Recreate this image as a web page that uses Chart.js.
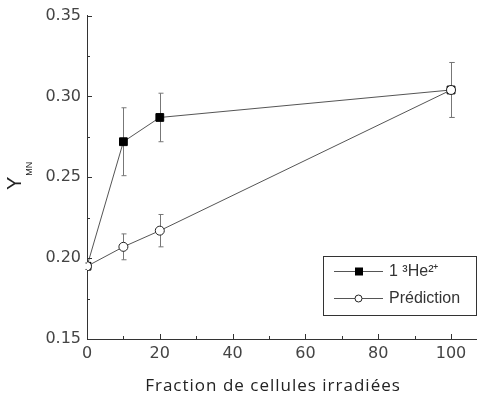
<!DOCTYPE html>
<html>
<head>
<meta charset="utf-8">
<script src="https://cdn.jsdelivr.net/npm/chart.js@4.4.0/dist/chart.umd.min.js"></script>
<style>
  body { margin: 0; background: #fff; }
  #wrap { width: 483px; height: 396px; position: relative; }
</style>
</head>
<body>
<div id="wrap"><canvas id="chart"></canvas></div>
<script>
// data
const fractions = [0, 10, 20, 100];
const heValues = [0.195, 0.272, 0.287, 0.304];
const heErrors = [0.002, 0.021, 0.015, 0.017];
const predValues = [0.195, 0.207, 0.217, 0.304];
const predErrors = [0.002, 0.008, 0.010, 0.017];
const xTicks = [0, 20, 40, 60, 80, 100];
const yTicks = [0.15, 0.20, 0.25, 0.30, 0.35];
const seriesNames = ["1 \u00B3He\u00B2\u207A", "Pr\u00E9diction"];
const xTitle = "Fraction de cellules irradi\u00E9es";

const lineColor = "#555";

// error bars, inward ticks, axis titles and the boxed legend
const extras = {
  id: "extras",
  beforeDatasetsDraw(chart) {
    const ctx = chart.ctx;
    const xs = chart.scales.x, ys = chart.scales.y;
    ctx.save();
    ctx.strokeStyle = "#777";
    ctx.lineWidth = 1;
    [[heValues, heErrors], [predValues, predErrors]].forEach(([vals, errs]) => {
      vals.forEach((v, i) => {
        const px = Math.round(xs.getPixelForValue(fractions[i])) + 0.5;
        const top = ys.getPixelForValue(v + errs[i]);
        const bot = ys.getPixelForValue(v - errs[i]);
        ctx.beginPath();
        ctx.moveTo(px, top); ctx.lineTo(px, bot);
        ctx.moveTo(px - 2, top); ctx.lineTo(px + 3, top);
        ctx.moveTo(px - 2, bot); ctx.lineTo(px + 3, bot);
        ctx.stroke();
      });
    });
    ctx.restore();
  },
  afterDraw(chart) {
    const ctx = chart.ctx;
    const xs = chart.scales.x, ys = chart.scales.y;
    const area = chart.chartArea;
    ctx.save();
    ctx.strokeStyle = "#333";
    ctx.lineWidth = 1;
    // inward ticks on x
    for (let v = 0; v <= 100; v += 10) {
      const px = Math.round(xs.getPixelForValue(v)) + 0.5;
      const len = v % 20 === 0 ? 5 : 3;
      ctx.beginPath();
      ctx.moveTo(px, area.bottom);
      ctx.lineTo(px, area.bottom - len);
      ctx.stroke();
    }
    // inward ticks on y
    for (let k = 0; k <= 8; k++) {
      const v = 0.15 + k * 0.025;
      const py = Math.round(ys.getPixelForValue(v)) + 0.5;
      const len = k % 2 === 0 ? 5 : 3;
      ctx.beginPath();
      ctx.moveTo(area.left, py);
      ctx.lineTo(area.left + len, py);
      ctx.stroke();
    }

    // x title, a bit spaced out like the original
    ctx.fillStyle = "#222";
    ctx.font = "17px 'Open Sans'";
    ctx.letterSpacing = "1px";
    ctx.textAlign = "left";
    ctx.textBaseline = "alphabetic";
    const tw = ctx.measureText(xTitle).width;
    ctx.fillText(xTitle, 273 - tw / 2, 391);
    ctx.letterSpacing = "0px";

    // y title: Y with MN subscript
    ctx.translate(21, 190);
    ctx.rotate(-Math.PI / 2);
    ctx.font = "20px 'Liberation Sans'";
    ctx.fillText("Y", 0, 0);
    const yw = ctx.measureText("Y").width;
    ctx.font = "9px 'Liberation Sans'";
    ctx.fillText("MN", yw + 1, 11);
    ctx.setTransform(1, 0, 0, 1, 0, 0);

    // legend box
    const lx = 323.5, ly = 256.5, lw = 153, lh = 59;
    ctx.strokeStyle = "#333";
    ctx.strokeRect(lx, ly, lw, lh);
    const rows = [ly + 15, ly + 42];
    ctx.font = "16px 'Liberation Sans'";
    ctx.textBaseline = "middle";
    rows.forEach((ry, i) => {
      ctx.strokeStyle = lineColor;
      ctx.beginPath();
      ctx.moveTo(334, ry); ctx.lineTo(383, ry);
      ctx.stroke();
      if (i === 0) {
        ctx.fillStyle = "#000";
        ctx.fillRect(355, ry - 4, 8, 8);
      } else {
        ctx.fillStyle = "#fff";
        ctx.beginPath();
        ctx.arc(358.5, ry, 3.5, 0, Math.PI * 2);
        ctx.fill();
        ctx.strokeStyle = "#222";
        ctx.stroke();
      }
      ctx.fillStyle = "#333";
      ctx.fillText(seriesNames[i], 389, ry);
    });
    ctx.restore();
  },
};

new Chart(document.getElementById("chart"), {
  type: "scatter",
  data: {
    datasets: [
      {
        label: seriesNames[0],
        data: fractions.map((f, i) => ({ x: f, y: heValues[i] })),
        order: 1,
        showLine: true,
        borderColor: lineColor,
        borderWidth: 1,
        pointStyle: "rect",
        pointRadius: 5.5,
        pointBackgroundColor: "#000",
        pointBorderColor: "#000",
        pointBorderWidth: 1,
      },
      {
        label: seriesNames[1],
        data: fractions.map((f, i) => ({ x: f, y: predValues[i] })),
        order: 0,
        showLine: true,
        borderColor: lineColor,
        borderWidth: 1,
        pointStyle: "circle",
        pointRadius: 4.5,
        pointBackgroundColor: "#fff",
        pointBorderColor: "#222",
        pointBorderWidth: 1,
      },
    ],
  },
  options: {
    responsive: true,
    maintainAspectRatio: false,
    animation: false,
    layout: { padding: { top: 15, right: 3, left: 0, bottom: 0 } },
    plugins: {
      legend: { display: false },
      tooltip: { enabled: false },
    },
    scales: {
      x: {
        type: "linear",
        min: 0,
        max: 107,
        afterFit: (s) => { s.height = 57; },
        afterBuildTicks: (s) => { s.ticks = xTicks.map((v) => ({ value: v })); },
        grid: { color: "transparent", drawTicks: false },
        border: { color: "#333", width: 1 },
        ticks: {
          padding: 5,
          color: "#444",
          font: { family: "DejaVu Sans", size: 16 },
          maxRotation: 0,
        },
      },
      y: {
        type: "linear",
        min: 0.15,
        max: 0.35,
        afterFit: (s) => { s.width = 87; },
        afterBuildTicks: (s) => { s.ticks = yTicks.map((v) => ({ value: v })); },
        grid: { color: "transparent", drawTicks: false },
        border: { color: "#333", width: 1 },
        ticks: {
          padding: 6,
          color: "#444",
          font: { family: "DejaVu Sans", size: 16 },
          callback: (v) => v.toFixed(2),
        },
      },
    },
  },
  plugins: [extras],
});
</script>
</body>
</html>
